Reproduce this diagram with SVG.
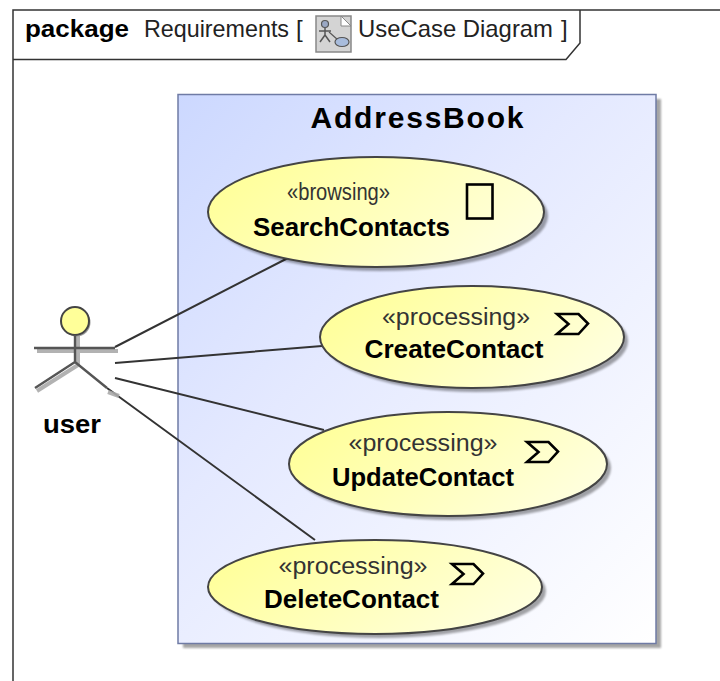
<svg xmlns="http://www.w3.org/2000/svg" width="720" height="681" viewBox="0 0 720 681">
<style>
text{font-family:"Liberation Sans",Arial,sans-serif;fill:#000}
.b{font-weight:700}
.r{font-size:24px;fill:#222}
.st{font-size:23px;fill:#333}
.n{font-size:25px}
.line{fill:none;stroke:#333;stroke-width:2}
.uc{stroke:#444;stroke-width:2;fill:url(#yel)}
.sh{fill:#000;opacity:.35}
.ic{fill:none;stroke:#000;stroke-width:2.600}
</style>
<defs>
<linearGradient id="blue" gradientUnits="userSpaceOnUse" x1="178" y1="94" x2="691" y2="607"><stop offset="0" stop-color="#ccd8ff"/><stop offset=".4" stop-color="#e4e9ff"/><stop offset="1" stop-color="#ffffff"/></linearGradient>
<linearGradient id="yel" x1="0" y1="0.300" x2="1" y2="0.700"><stop offset="0" stop-color="#ffff99"/><stop offset="1" stop-color="#ffffe0"/></linearGradient>
<filter id="blur" x="-5%" y="-5%" width="110%" height="110%"><feGaussianBlur stdDeviation="1"/></filter>
<path id="sig" d="M0 0H21.500L31 9.500L21.500 20H0L11.500 10Z"/>
</defs>
<rect width="720" height="681" fill="#fff"/>
<g id="frame">
<path d="M13 681V10H720" fill="none" stroke="#333" stroke-width="1.500"/>
<path d="M13 59.500H566L580 43V10" fill="none" stroke="#333" stroke-width="1.500"/>
<text class="b" x="25" y="37" font-size="24" textLength="104" lengthAdjust="spacingAndGlyphs">package</text>
<text class="r" x="144" y="37" textLength="145" lengthAdjust="spacingAndGlyphs">Requirements</text>
<text class="r" x="296" y="37">[</text>
<g id="diagram-icon">
<rect x="316" y="16" width="35" height="36" fill="#d4d4d4" stroke="#888" stroke-width="1.500"/>
<path d="M341 16L351 26H341Z" fill="#fff" stroke="#888"/>
<circle cx="325" cy="24" r="3.500" fill="#9aa8c4" stroke="#555" stroke-width="1.200"/>
<path d="M325 28V35M319 31H331M325 35L320 42M325 35L330 42" fill="none" stroke="#555" stroke-width="1.500"/>
<path d="M329 32L338 40" stroke="#555" stroke-width="1.200"/>
<ellipse cx="342" cy="42" rx="7" ry="4.500" fill="#a8bcdc" stroke="#555" stroke-width="1.200"/>
</g>
<text class="r" x="358" y="37" textLength="195" lengthAdjust="spacingAndGlyphs">UseCase Diagram</text>
<text class="r" x="561" y="37">]</text>
</g>
<g id="AddressBook">
<rect x="183" y="99" width="478" height="549" class="sh" filter="url(#blur)"/>
<rect x="178" y="94.500" width="478" height="549" fill="url(#blue)" stroke="#6f7ba5" stroke-width="1.500"/>
<text class="b" x="310.500" y="128" font-size="30" textLength="213">AddressBook</text>
</g>
<g id="connectors">
<path class="line" d="M115 347L288 258M115 363L322 346M115 378L324 430M107 388L315 540"/>
</g>
<g id="user">
<g fill="none" stroke="#aaa" stroke-width="4" opacity=".9">
<path d="M37 351H118M78 325V365M37 391L78 365M108 392L119 396"/>
</g>
<circle cx="76.500" cy="322.500" r="14" fill="#999"/>
<circle cx="75" cy="321" r="14" fill="#ffff99" stroke="#444" stroke-width="2"/>
<path d="M75 335V362M34 348H115M35 388L75 362L107 388" fill="none" stroke="#555" stroke-width="2.400"/>
<text class="b" x="43" y="433" font-size="25" textLength="58" lengthAdjust="spacingAndGlyphs">user</text>
</g>
<g id="SearchContacts">
<ellipse cx="380" cy="216" rx="168" ry="55" class="sh" filter="url(#blur)"/>
<ellipse cx="376" cy="212" rx="168" ry="55" class="uc"/>
<text class="st" x="287" y="200" textLength="103" lengthAdjust="spacingAndGlyphs">«browsing»</text>
<text class="b n" x="253" y="236" textLength="197" lengthAdjust="spacingAndGlyphs">SearchContacts</text>
<rect class="ic" x="467" y="184.500" width="25.500" height="34"/>
</g>
<g id="CreateContact">
<ellipse cx="476" cy="341" rx="152" ry="51" class="sh" filter="url(#blur)"/>
<ellipse cx="472" cy="337" rx="152" ry="51" class="uc"/>
<text class="st" x="382" y="325" textLength="148" lengthAdjust="spacingAndGlyphs">«processing»</text>
<text class="b n" x="364.500" y="358" textLength="179" lengthAdjust="spacingAndGlyphs">CreateContact</text>
<use href="#sig" class="ic" x="557" y="314"/>
</g>
<g id="UpdateContact">
<ellipse cx="452" cy="468" rx="159" ry="52" class="sh" filter="url(#blur)"/>
<ellipse cx="448" cy="464" rx="159" ry="52" class="uc"/>
<text class="st" x="348.500" y="451" textLength="149" lengthAdjust="spacingAndGlyphs">«processing»</text>
<text class="b n" x="332" y="486" textLength="182" lengthAdjust="spacingAndGlyphs">UpdateContact</text>
<use href="#sig" class="ic" x="527" y="442"/>
</g>
<g id="DeleteContact">
<ellipse cx="379" cy="591" rx="167" ry="47" class="sh" filter="url(#blur)"/>
<ellipse cx="375" cy="587" rx="167" ry="47" class="uc"/>
<text class="st" x="278.500" y="574" textLength="149" lengthAdjust="spacingAndGlyphs">«processing»</text>
<text class="b n" x="264" y="608" textLength="175" lengthAdjust="spacingAndGlyphs">DeleteContact</text>
<use href="#sig" class="ic" x="452" y="564"/>
</g>
</svg>
